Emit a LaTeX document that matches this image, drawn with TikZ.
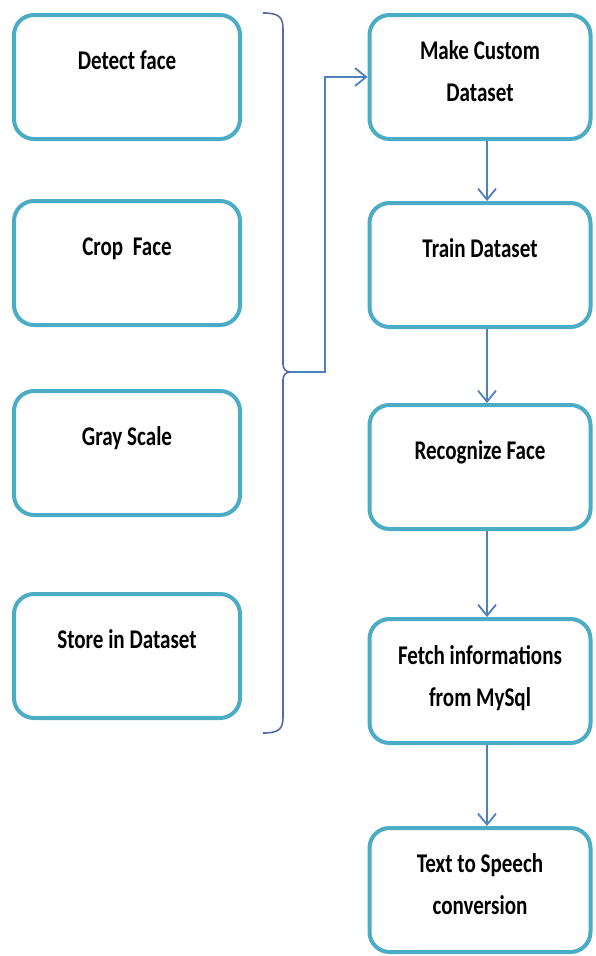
\documentclass[tikz,border=0pt]{standalone}
\usepackage{fontspec}
\setmainfont{Carlito}[FakeStretch=0.78]
\usetikzlibrary{positioning, arrows.meta}

\definecolor{boxline}{RGB}{75,172,198}
\definecolor{flowline}{RGB}{79,129,189}
\definecolor{braceline}{RGB}{88,104,162}

\begin{document}
\begin{tikzpicture}[x=1pt, y=-1pt,
    stage/.style={draw=boxline, line width=4pt, rounded corners=20pt, fill=white,
      minimum width=226pt, minimum height=124pt, align=center,
      font=\fontsize{27}{42}\selectfont\bfseries},
    oneline/.style={text depth=33pt},
    twoline/.style={text depth=11pt},
    narrow/.style={minimum width=221pt},
    flow/.style={draw=flowline, line width=1.8pt, -{Straight Barb[length=11pt, width=18pt]}},
    brace/.style={draw=braceline, line width=1.6pt}]
      \fill[white] (0,0) rectangle (596,956);

      % Capture steps
      \node[stage, oneline] (detect) at (127,77) {Detect face};
      \node[stage, oneline] (crop) at (127,263) {Crop~~Face};
      \node[stage, oneline] (gray) at (127,453) {Gray Scale};
      \node[stage, oneline] (store) at (127,656) {Store in Dataset};

      % Recognition steps
      \node[stage, narrow, twoline] (custom) at (480,77) {Make Custom\\Dataset};
      \node[stage, narrow, oneline] (train) at (480,265) {Train Dataset};
      \node[stage, narrow, oneline] (recog) at (480,467) {Recognize Face};
      \node[stage, narrow, twoline] (fetch) at (480,681) {Fetch informations\\from MySql};
      \node[stage, narrow, twoline] (speech) at (480,890) {Text to Speech\\conversion};

      % Brace
      \coordinate (btop) at (263,13);
      \coordinate (bbot) at (263,733);
      \coordinate (btip) at (290,372);
      \coordinate (elbow) at (325,372);
      \draw[brace] (btop) .. controls (279,13) and (283,17) .. (283,29)
        -- (283,364) .. controls (283,369) and (286,372) .. (btip)
        .. controls (286,372) and (283,375) .. (283,380)
        -- (283,717) .. controls (283,729) and (279,733) .. (bbot);

      % Edges
      \draw[flow] (btip) -- (elbow) |- (custom.west);
      \draw[flow] ([xshift=7pt]custom.south) -- ([xshift=7pt]train.north);
      \draw[flow] ([xshift=7pt]train.south) -- ([xshift=7pt]recog.north);
      \draw[flow] ([xshift=7pt]recog.south) -- ([xshift=7pt]fetch.north);
      \draw[flow] ([xshift=7pt]fetch.south) -- ([xshift=7pt]speech.north);
\end{tikzpicture}
\end{document}
